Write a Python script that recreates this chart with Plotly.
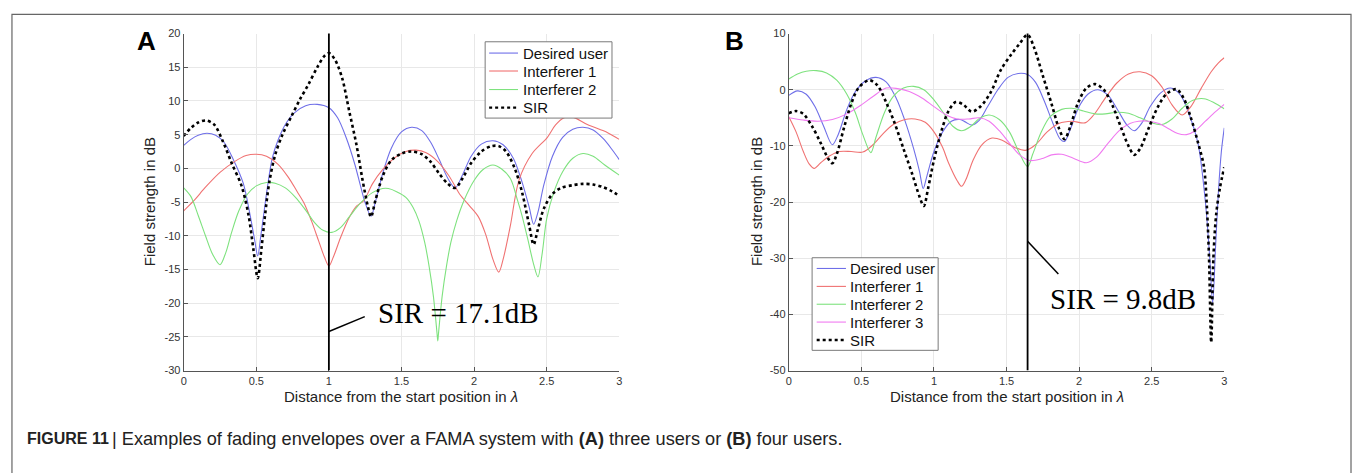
import plotly.graph_objects as go

W, H = 1355, 473

# ---------------- Panel A data (three users) ----------------
a_des_x = [0, 0.05, 0.1, 0.16, 0.22, 0.28, 0.34, 0.41, 0.458, 0.49, 0.51, 0.53, 0.55, 0.58, 0.61, 0.65, 0.70, 0.76, 0.84, 0.92, 1.0, 1.06, 1.12, 1.18, 1.22, 1.25, 1.29, 1.32, 1.37, 1.43, 1.50, 1.57, 1.64, 1.70, 1.76, 1.82, 1.87, 1.92, 1.98, 2.05, 2.13, 2.20, 2.27, 2.33, 2.38, 2.41, 2.44, 2.48, 2.54, 2.61, 2.68, 2.75, 2.82, 2.89, 2.95, 3.0]
a_des_y = [3.4, 4.3, 4.9, 5.2, 4.9, 3.8, 1.4, -2.2, -7.0, -10.8, -13.0, -10.2, -7.0, -2.3, 1.5, 4.2, 6.5, 8.2, 9.3, 9.5, 9.0, 7.5, 4.5, 0.5, -2.8, -5.1, -7.1, -5.0, -0.8, 3.0, 5.4, 6.1, 5.6, 3.9, 1.3, -1.5, -2.9, -1.0, 1.8, 3.6, 4.1, 3.5, 1.5, -2.0, -5.8, -8.3, -6.5, -2.5, 1.8, 4.6, 5.8, 6.1, 5.7, 4.4, 2.8, 1.3]

a_int1_x = [0, 0.07, 0.15, 0.25, 0.35, 0.43, 0.50, 0.57, 0.65, 0.72, 0.78, 0.83, 0.88, 0.93, 0.97, 1.0, 1.03, 1.08, 1.14, 1.19, 1.24, 1.30, 1.37, 1.45, 1.53, 1.60, 1.67, 1.75, 1.83, 1.90, 1.97, 2.03, 2.08, 2.13, 2.17, 2.20, 2.25, 2.31, 2.40, 2.505, 2.56, 2.62, 2.68, 2.78, 2.92, 3.0]
a_int1_y = [-6.3, -4.8, -2.8, -0.6, 1.0, 1.9, 2.1, 1.8, 0.6, -1.3, -3.4, -5.2, -7.8, -10.8, -13.2, -14.5, -13.2, -10.3, -7.3, -5.6, -4.8, -2.3, -0.2, 1.5, 2.5, 2.7, 2.3, 1.0, -1.2, -3.8, -5.6, -7.2, -9.8, -13.5, -15.4, -13.5, -8.5, -1.7, 2.2, 4.6, 6.4, 7.5, 7.6, 6.5, 5.3, 4.3]

a_int2_x = [0, 0.05, 0.10, 0.15, 0.20, 0.25, 0.29, 0.33, 0.38, 0.44, 0.50, 0.57, 0.63, 0.70, 0.77, 0.84, 0.90, 0.96, 1.02, 1.08, 1.14, 1.22, 1.30, 1.37, 1.41, 1.47, 1.53, 1.58, 1.62, 1.66, 1.69, 1.72, 1.745, 1.75, 1.755, 1.78, 1.81, 1.84, 1.88, 1.93, 2.0, 2.06, 2.13, 2.19, 2.25, 2.30, 2.33, 2.37, 2.41, 2.44, 2.47, 2.50, 2.55, 2.61, 2.68, 2.75, 2.82, 2.90, 3.0]
a_int2_y = [-2.9, -4.2, -7.0, -10.0, -12.8, -14.3, -12.5, -9.5, -6.3, -3.8, -2.6, -2.1, -2.2, -2.9, -4.3, -6.2, -8.0, -9.2, -9.5, -8.8, -7.2, -5.1, -3.6, -3.0, -3.0, -3.5, -4.3, -5.8, -7.8, -11.0, -14.5, -19.0, -24.5, -25.6, -24.5, -19.0, -14.5, -11.0, -7.8, -4.8, -1.8, -0.2, 0.5, -0.1, -1.5, -4.8, -7.0, -10.5, -14.2, -16.1, -12.5, -7.5, -3.5, -0.5, 1.5, 2.2, 1.8, 0.5, -1.0]

a_sir_x = [0, 0.05, 0.10, 0.155, 0.21, 0.27, 0.33, 0.40, 0.447, 0.48, 0.51, 0.535, 0.56, 0.59, 0.63, 0.68, 0.744, 0.80, 0.86, 0.92, 0.97, 1.0, 1.04, 1.09, 1.14, 1.19, 1.23, 1.27, 1.29, 1.32, 1.37, 1.43, 1.50, 1.57, 1.64, 1.70, 1.76, 1.82, 1.87, 1.92, 1.98, 2.05, 2.12, 2.17, 2.22, 2.28, 2.33, 2.38, 2.41, 2.44, 2.48, 2.54, 2.60, 2.68, 2.75, 2.82, 2.89, 2.95, 3.0]
a_sir_y = [4.8, 6.0, 6.8, 7.1, 6.5, 4.0, 0.8, -2.7, -7.0, -12.0, -16.3, -12.0, -7.0, -2.0, 2.0, 5.0, 7.8, 10.2, 12.5, 15.0, 16.7, 17.1, 16.2, 13.5, 8.5, 3.5, -1.5, -5.8, -7.2, -4.8, -1.2, 1.2, 2.2, 2.5, 2.1, 1.0, -0.8, -2.3, -2.9, -1.5, 0.8, 2.5, 3.3, 3.3, 2.5, 0.0, -3.5, -8.5, -11.3, -9.0, -6.0, -3.8, -2.9, -2.5, -2.3, -2.4, -2.8, -3.4, -4.1]

# ---------------- Panel B data (four users) ----------------
b_des_x = [0, 0.06, 0.12, 0.18, 0.24, 0.30, 0.34, 0.40, 0.46, 0.53, 0.60, 0.67, 0.74, 0.80, 0.86, 0.90, 0.926, 0.95, 1.00, 1.06, 1.12, 1.18, 1.22, 1.26, 1.31, 1.37, 1.44, 1.51, 1.58, 1.645, 1.70, 1.76, 1.82, 1.87, 1.90, 1.94, 2.00, 2.06, 2.13, 2.20, 2.27, 2.33, 2.38, 2.43, 2.49, 2.56, 2.63, 2.70, 2.76, 2.82, 2.87, 2.90, 2.92, 2.94, 2.96, 2.98, 3.0]
b_des_y = [-1.0, -0.2, -0.8, -3.0, -6.5, -9.8, -8.0, -3.5, -0.3, 1.6, 2.2, 1.4, -1.5, -5.5, -10.5, -14.5, -17.6, -15.5, -11.0, -7.5, -5.6, -5.3, -5.8, -6.3, -5.5, -3.0, 0.0, 2.2, 2.9, 2.7, 1.3, -2.0, -6.0, -8.8, -9.2, -7.0, -3.0, -0.8, 0.0, -1.0, -3.8, -6.3, -7.3, -6.0, -3.0, -0.6, 0.3, -1.0, -4.5, -9.7, -20.0, -30.0, -38.0, -28.0, -18.0, -11.0, -6.8]

b_int1_x = [0, 0.05, 0.10, 0.14, 0.175, 0.22, 0.28, 0.35, 0.43, 0.51, 0.58, 0.65, 0.72, 0.80, 0.87, 0.94, 1.00, 1.06, 1.10, 1.16, 1.19, 1.22, 1.27, 1.33, 1.40, 1.47, 1.55, 1.63, 1.70, 1.78, 1.86, 1.95, 2.04, 2.10, 2.18, 2.26, 2.34, 2.42, 2.50, 2.57, 2.64, 2.71, 2.77, 2.84, 2.91, 2.96, 3.0]
b_int1_y = [-4.8, -7.5, -11.0, -13.2, -14.0, -13.0, -11.8, -11.0, -11.0, -11.1, -9.8, -7.8, -6.2, -5.3, -5.2, -5.8, -7.5, -10.3, -13.0, -16.2, -17.2, -16.0, -12.5, -9.8, -8.6, -9.0, -10.2, -10.8, -9.8, -7.5, -6.0, -5.6, -5.9, -4.5, -1.5, 1.2, 2.8, 3.2, 2.5, 0.5, -2.7, -4.5, -3.0, 0.2, 3.2, 4.8, 5.7]

b_int2_x = [0, 0.06, 0.12, 0.19, 0.26, 0.33, 0.40, 0.46, 0.51, 0.565, 0.60, 0.66, 0.72, 0.79, 0.86, 0.93, 1.00, 1.07, 1.13, 1.19, 1.25, 1.32, 1.38, 1.45, 1.52, 1.58, 1.645, 1.68, 1.74, 1.80, 1.88, 1.95, 2.03, 2.11, 2.18, 2.26, 2.34, 2.42, 2.50, 2.57, 2.64, 2.71, 2.78, 2.86, 2.93, 3.0]
b_int2_y = [1.9, 2.8, 3.3, 3.4, 3.0, 1.7, -0.8, -4.2, -8.0, -11.2, -8.5, -4.0, -1.2, 0.3, 0.6, 0.0, -1.8, -4.3, -6.5, -7.3, -6.6, -5.0, -4.5, -5.3, -7.5, -10.8, -13.7, -11.5, -7.5, -4.8, -3.5, -3.3, -3.8, -4.3, -4.3, -4.0, -4.2, -5.0, -5.9, -6.2, -5.2, -3.3, -1.9, -1.6, -2.3, -3.4]

b_int3_x = [0, 0.1, 0.2, 0.3, 0.4, 0.5, 0.58, 0.67, 0.75, 0.83, 0.92, 1.00, 1.08, 1.16, 1.24, 1.31, 1.38, 1.45, 1.52, 1.59, 1.66, 1.74, 1.81, 1.88, 1.96, 2.05, 2.12, 2.20, 2.28, 2.35, 2.41, 2.48, 2.55, 2.62, 2.68, 2.74, 2.80, 2.87, 2.94, 3.0]
b_int3_y = [-5.0, -5.4, -5.6, -5.3, -4.3, -2.7, -1.2, 0.3, 0.2, -0.3, -1.5, -3.0, -4.4, -5.2, -5.2, -5.0, -5.6, -7.3, -9.5, -11.6, -12.6, -12.3, -11.6, -11.5, -12.2, -13.0, -12.0, -9.5, -7.2, -6.0, -5.6, -5.6, -6.0, -7.0, -7.8, -8.0, -7.3, -5.6, -3.9, -2.6]

b_sir_x = [0, 0.05, 0.10, 0.16, 0.22, 0.27, 0.30, 0.33, 0.38, 0.43, 0.48, 0.553, 0.61, 0.67, 0.73, 0.79, 0.85, 0.90, 0.93, 0.96, 1.00, 1.05, 1.10, 1.15, 1.20, 1.26, 1.32, 1.39, 1.46, 1.53, 1.59, 1.645, 1.69, 1.75, 1.81, 1.86, 1.90, 1.94, 1.99, 2.05, 2.11, 2.17, 2.23, 2.29, 2.34, 2.38, 2.42, 2.48, 2.54, 2.60, 2.67, 2.72, 2.77, 2.82, 2.86, 2.88, 2.895, 2.91, 2.925, 2.945, 2.97, 3.0]
b_sir_y = [-4.2, -3.8, -4.3, -6.5, -9.5, -12.2, -13.1, -11.5, -6.8, -2.5, 0.3, 1.7, 0.8, -2.2, -6.0, -10.5, -15.0, -19.0, -20.7, -17.5, -12.5, -7.5, -3.8, -2.2, -2.6, -3.9, -3.0, -0.5, 3.5, 6.2, 8.2, 9.8, 7.5, 2.5, -2.5, -6.8, -8.8, -6.5, -2.5, 0.3, 1.0, 0.0, -2.8, -6.8, -10.0, -11.6, -10.5, -6.8, -3.2, -0.8, 0.1, -1.5, -5.0, -9.5, -13.7, -20.7, -30.0, -45.0, -30.0, -22.0, -17.5, -13.8]

# SIR marker positions and texts
a_mark_x, a_mark_text = 1.0, "SIR = 17.1dB"
b_mark_x, b_mark_text = 1.645, "SIR = 9.8dB"

# tick labels
x_ticks = [0, 0.5, 1, 1.5, 2, 2.5, 3]
x_ticklabels = ["0", "0.5", "1", "1.5", "2", "2.5", "3"]
a_yticks = [-30, -25, -20, -15, -10, -5, 0, 5, 10, 15, 20]
a_yticklabels = ["-30", "-25", "-20", "-15", "-10", "-5", "0", "5", "10", "15", "20"]
b_yticks = [-50, -40, -30, -20, -10, 0, 10]
b_yticklabels = ["-50", "-40", "-30", "-20", "-10", "0", "10"]

names_a = ["Desired user", "Interferer 1", "Interferer 2", "SIR"]
names_b = ["Desired user", "Interferer 1", "Interferer 2", "Interferer 3", "SIR"]

C_BLUE, C_RED, C_GREEN, C_PINK = "#6f6fe8", "#f07272", "#7ee27e", "#f07af0"
colors_a = [C_BLUE, C_RED, C_GREEN, "black"]
colors_b = [C_BLUE, C_RED, C_GREEN, C_PINK, "black"]

SANS = "Liberation Sans, Arial, sans-serif"
SERIF = "Liberation Serif, DejaVu Serif, serif"


def px_x(p):
    return p / W


def px_y(p):
    return 1 - p / H


def line_style(color):
    dotted = color == "black"
    return dict(color=color, width=2.6 if dotted else 1.1, dash="dot" if dotted else "solid")


fig = go.Figure()


def add_line(x, y, name, color, xa, ya):
    st = line_style(color)
    st.update(shape="spline", smoothing=0.9)
    fig.add_trace(go.Scatter(x=x, y=y, name=name, mode="lines", xaxis=xa, yaxis=ya,
                             showlegend=False, line=st))


for xs, ys, nm, c in zip([a_des_x, a_int1_x, a_int2_x, a_sir_x], [a_des_y, a_int1_y, a_int2_y, a_sir_y],
                         names_a, colors_a):
    add_line(xs, ys, nm, c, "x", "y")
for xs, ys, nm, c in zip([b_des_x, b_int1_x, b_int2_x, b_int3_x, b_sir_x],
                         [b_des_y, b_int1_y, b_int2_y, b_int3_y, b_sir_y], names_b, colors_b):
    add_line(xs, ys, nm, c, "x2", "y2")

axis_common = dict(
    showgrid=True, gridcolor="#e8e8e8", gridwidth=1, zeroline=False,
    showline=True, linecolor="#555555", linewidth=1, mirror=False,
    ticks="inside", ticklen=4, tickcolor="#555555",
    tickfont=dict(family=SANS, size=11, color="#333333"),
)

fig.update_layout(
    width=W, height=H,
    margin=dict(l=0, r=0, t=0, b=0),
    paper_bgcolor="white", plot_bgcolor="white",
    font=dict(family=SANS, color="#222222"),
    showlegend=False,
    xaxis=dict(domain=[px_x(181.5), px_x(619)], range=[0, 3], tickvals=x_ticks, ticktext=x_ticklabels,
               anchor="y", **axis_common),
    yaxis=dict(domain=[px_y(374), px_y(28.3)], range=[-30, 20], tickvals=a_yticks, ticktext=a_yticklabels,
               anchor="x", **axis_common),
    xaxis2=dict(domain=[px_x(789.3), px_x(1226.7)], range=[0, 3], tickvals=x_ticks, ticktext=x_ticklabels,
                anchor="y2", **axis_common),
    yaxis2=dict(domain=[px_y(374), px_y(28.3)], range=[-50, 10], tickvals=b_yticks, ticktext=b_yticklabels,
                anchor="x2", **axis_common),
)

# vertical SIR marker lines and pointer lines
fig.add_shape(type="line", xref="x", yref="y", x0=a_mark_x, x1=a_mark_x, y0=-30, y1=20.2,
              line=dict(color="black", width=1.8))
fig.add_shape(type="line", xref="x", yref="y", x0=a_mark_x, x1=1.247, y0=-24.2, y1=-22.0,
              line=dict(color="black", width=1.5))
fig.add_shape(type="line", xref="x2", yref="y2", x0=b_mark_x, x1=b_mark_x, y0=-50, y1=10.2,
              line=dict(color="black", width=1.8))
fig.add_shape(type="line", xref="x2", yref="y2", x0=b_mark_x, x1=1.857, y0=-27.0, y1=-32.8,
              line=dict(color="black", width=1.5))

fig.add_annotation(x=1.327, y=-21.5, xref="x", yref="y", text=a_mark_text, showarrow=False,
                   xanchor="left", yanchor="middle", font=dict(family=SERIF, size=29, color="black"))
fig.add_annotation(x=1.783, y=-37.2, xref="x2", yref="y2", text=b_mark_text, showarrow=False,
                   xanchor="left", yanchor="middle", font=dict(family=SERIF, size=29, color="black"))


# legends (drawn as boxes with sample lines + text)
def draw_legend(names, colors, left, top, right, bottom, row_ys, line_x0, line_x1, text_x):
    fig.add_shape(type="rect", xref="paper", yref="paper", x0=px_x(left), x1=px_x(right),
                  y0=px_y(bottom), y1=px_y(top), line=dict(color="#7a7a7a", width=1), fillcolor="white",
                  layer="above")
    for nm, c, ry in zip(names, colors, row_ys):
        st = line_style(c)
        if c == "black":
            st["width"] = 2.4
        fig.add_shape(type="line", xref="paper", yref="paper", x0=px_x(line_x0), x1=px_x(line_x1),
                      y0=px_y(ry), y1=px_y(ry), line=st, layer="above")
        fig.add_annotation(x=px_x(text_x), y=px_y(ry), xref="paper", yref="paper", text=nm,
                           showarrow=False, xanchor="left", yanchor="middle",
                           font=dict(family=SANS, size=15, color="#111111"))


draw_legend(names_a, colors_a, 484.3, 36.7, 611.7, 115.0, [48.3, 66.7, 85.7, 104.3], 488.3, 517.3, 520.5)
draw_legend(names_b, colors_b, 812.7, 258.3, 939.3, 353.3, [269.3, 287.7, 306.0, 324.3, 342.7], 817.3, 846.7, 849.0)

# axis titles
title_font = dict(family=SANS, size=15, color="#222222")
for cx in [148, 757.5]:
    fig.add_annotation(x=px_x(cx), y=px_y(201), xref="paper", yref="paper", text="Field strength in dB",
                       textangle=-90, showarrow=False, xanchor="center", yanchor="middle", font=title_font)
for cx in [400.2, 1008]:
    fig.add_annotation(x=px_x(cx), y=px_y(401), xref="paper", yref="paper",
                       text="Distance from the start position in <i>λ</i>",
                       showarrow=False, xanchor="center", yanchor="middle", font=title_font)

# panel labels
for lbl, cx in [("A", 144), ("B", 735)]:
    fig.add_annotation(x=px_x(cx), y=px_y(36), xref="paper", yref="paper", text=f"<b>{lbl}</b>",
                       showarrow=False, xanchor="center", yanchor="middle",
                       font=dict(family=SANS, size=26, color="black"))

# caption
fig.add_annotation(x=px_x(22), y=px_y(444), xref="paper", yref="paper", text="<b>FIGURE 11</b>",
                   showarrow=False, xanchor="left", yanchor="middle",
                   font=dict(family=SANS, size=16, color="#222222"))
fig.add_annotation(x=px_x(107), y=px_y(444), xref="paper", yref="paper",
                   text="| Examples of fading envelopes over a FAMA system with <b>(A)</b> three users or <b>(B)</b> four users.",
                   showarrow=False, xanchor="left", yanchor="middle",
                   font=dict(family=SANS, size=18.2, color="#222222"))

# outer frame
fig.add_shape(type="path", xref="paper", yref="paper",
              path=f"M {px_x(9)},{-0.05} L {px_x(9)},{px_y(8.5)} L {px_x(1354)},{px_y(8.5)} L {px_x(1354)},{-0.05}",
              line=dict(color="#666666", width=1.2))

fig.write_html("out.html")
